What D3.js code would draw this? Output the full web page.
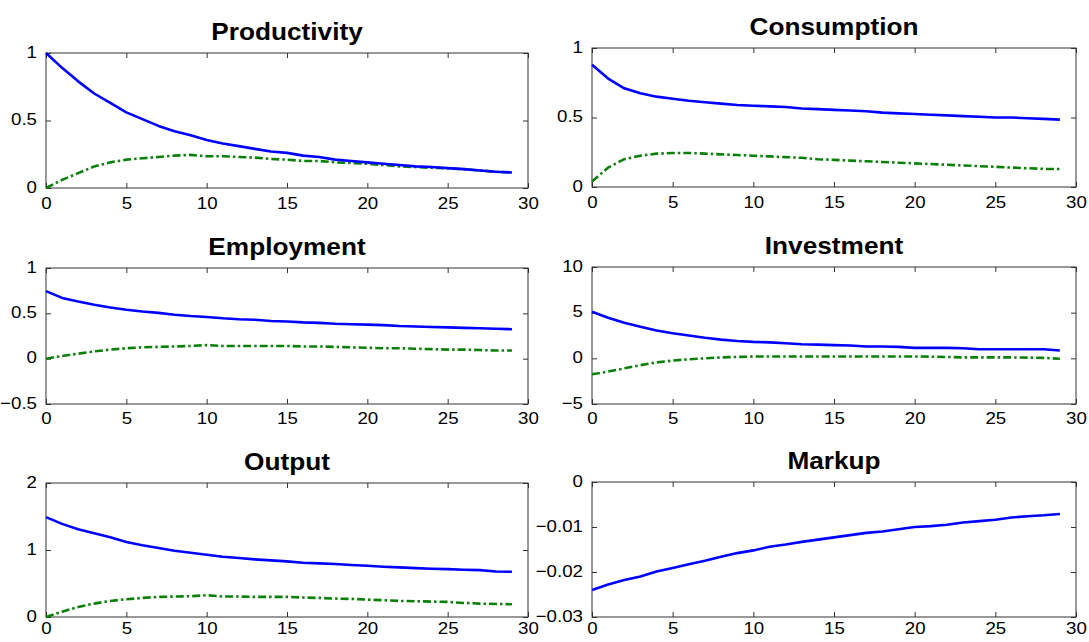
<!DOCTYPE html>
<html>
<head>
<meta charset="utf-8">
<script src="https://cdn.jsdelivr.net/npm/d3@7"></script>
<style>
    body { margin: 0; background: #fff; }
    svg { display: block; }
</style>
</head>
<body>
<svg id="chart"></svg>
<script>
// Impulse responses, periods 0..29
const xTicks = [0, 5, 10, 15, 20, 25, 30];

const productivitySolid = [1.00, 0.89, 0.79, 0.70, 0.63, 0.56, 0.51, 0.46, 0.42, 0.39, 0.355, 0.33, 0.31, 0.29, 0.27, 0.26, 0.24, 0.23, 0.21, 0.20, 0.19, 0.18, 0.17, 0.16, 0.155, 0.147, 0.14, 0.13, 0.12, 0.115];
const productivityDashed = [0.00, 0.06, 0.11, 0.16, 0.19, 0.21, 0.22, 0.23, 0.24, 0.245, 0.235, 0.235, 0.23, 0.225, 0.215, 0.21, 0.20, 0.20, 0.19, 0.185, 0.18, 0.17, 0.16, 0.155, 0.15, 0.145, 0.14, 0.13, 0.12, 0.115];

const consumptionSolid = [0.88, 0.78, 0.71, 0.675, 0.65, 0.635, 0.62, 0.61, 0.60, 0.59, 0.585, 0.58, 0.575, 0.565, 0.56, 0.555, 0.55, 0.545, 0.535, 0.53, 0.525, 0.52, 0.515, 0.51, 0.505, 0.50, 0.50, 0.495, 0.49, 0.485];
const consumptionDashed = [0.04, 0.14, 0.20, 0.225, 0.24, 0.245, 0.245, 0.24, 0.235, 0.23, 0.225, 0.22, 0.215, 0.21, 0.20, 0.195, 0.19, 0.185, 0.18, 0.175, 0.17, 0.165, 0.16, 0.155, 0.15, 0.145, 0.14, 0.135, 0.13, 0.13];

const employmentSolid = [0.745, 0.67, 0.63, 0.595, 0.565, 0.54, 0.52, 0.505, 0.485, 0.47, 0.46, 0.445, 0.435, 0.43, 0.415, 0.41, 0.40, 0.395, 0.385, 0.38, 0.375, 0.37, 0.36, 0.355, 0.35, 0.345, 0.34, 0.335, 0.33, 0.325];
const employmentDashed = [0.00, 0.03, 0.055, 0.08, 0.10, 0.115, 0.125, 0.13, 0.135, 0.14, 0.15, 0.14, 0.14, 0.14, 0.14, 0.14, 0.135, 0.135, 0.13, 0.125, 0.12, 0.115, 0.115, 0.11, 0.105, 0.10, 0.10, 0.095, 0.09, 0.09];

const investmentSolid = [5.1, 4.45, 3.9, 3.45, 3.05, 2.75, 2.5, 2.25, 2.05, 1.9, 1.8, 1.75, 1.65, 1.55, 1.5, 1.45, 1.4, 1.3, 1.3, 1.25, 1.15, 1.15, 1.15, 1.1, 1.0, 1.0, 1.0, 1.0, 1.0, 0.85];
const investmentDashed = [-1.75, -1.45, -1.1, -0.75, -0.45, -0.25, -0.1, 0.0, 0.1, 0.15, 0.2, 0.2, 0.2, 0.2, 0.2, 0.2, 0.2, 0.2, 0.2, 0.2, 0.2, 0.18, 0.15, 0.1, 0.1, 0.1, 0.1, 0.08, 0.05, -0.05];

const outputSolid = [1.49, 1.39, 1.31, 1.25, 1.19, 1.12, 1.07, 1.03, 0.99, 0.96, 0.93, 0.90, 0.88, 0.86, 0.845, 0.83, 0.81, 0.80, 0.79, 0.775, 0.765, 0.75, 0.74, 0.73, 0.72, 0.715, 0.705, 0.70, 0.68, 0.675];
const outputDashed = [0.00, 0.08, 0.15, 0.20, 0.24, 0.265, 0.285, 0.30, 0.305, 0.31, 0.325, 0.305, 0.305, 0.30, 0.30, 0.30, 0.29, 0.285, 0.275, 0.27, 0.26, 0.25, 0.24, 0.235, 0.23, 0.225, 0.21, 0.20, 0.195, 0.19];

const markupSolid = [-0.0240, -0.0228, -0.0218, -0.0210, -0.0199, -0.0191, -0.0183, -0.0175, -0.0166, -0.0158, -0.0152, -0.0144, -0.0139, -0.0133, -0.0128, -0.0123, -0.0118, -0.0113, -0.0110, -0.0105, -0.0100, -0.0098, -0.0095, -0.0090, -0.0087, -0.0084, -0.0079, -0.0076, -0.0074, -0.0071];

const productivityTicks = [0, 0.5, 1];
const consumptionTicks = [0, 0.5, 1];
const employmentTicks = [-0.5, 0, 0.5, 1];
const investmentTicks = [-5, 0, 5, 10];
const outputTicks = [0, 1, 2];
const markupTicks = [-0.03, -0.02, -0.01, 0];

const width = 1089;
const height = 642;

// panel boxes (left, right, top, bottom) in page pixels, plus x-label padding
const panels = [
    { title: 'Productivity', box: [46, 528, 53, 188], pad: 9, ticks: productivityTicks, solid: productivitySolid, dashed: productivityDashed },
    { title: 'Consumption', box: [592, 1076, 48, 187], pad: 9, ticks: consumptionTicks, solid: consumptionSolid, dashed: consumptionDashed },
    { title: 'Employment', box: [46, 528, 268, 404], pad: 8, ticks: employmentTicks, solid: employmentSolid, dashed: employmentDashed },
    { title: 'Investment', box: [592, 1076, 267, 404], pad: 8, ticks: investmentTicks, solid: investmentSolid, dashed: investmentDashed },
    { title: 'Output', box: [46, 528, 483, 617], pad: 5, ticks: outputTicks, solid: outputSolid, dashed: outputDashed },
    { title: 'Markup', box: [592, 1076, 482, 617], pad: 5, ticks: markupTicks, solid: markupSolid, dashed: null }
];

const svg = d3.select('#chart')
    .attr('width', width)
    .attr('height', height)
    .style('font-family', '"Liberation Sans", Arial, Helvetica, sans-serif');

const stretch = 1.1; // glyphs in the figure are a bit wider than tall

panels.forEach(p => {
    const [x0, x1, y0, y1] = p.box;
    const yMin = d3.min(p.ticks), yMax = d3.max(p.ticks);

    const x = d3.scaleLinear().domain([0, 30]).range([x0, x1]);
    const y = d3.scaleLinear().domain([yMin, yMax]).range([y1, y0]);

    const g = svg.append('g');

    // Title
    g.append('text')
        .attr('transform', `translate(${(x0 + x1) / 2},${y0 - 13}) scale(1.14,1)`)
        .attr('text-anchor', 'middle')
        .attr('font-size', '23px')
        .attr('font-weight', 'bold')
        .attr('fill', '#000')
        .text(p.title);

    // Bottom axis with labels, ticks pointing inward
    const bottom = g.append('g')
        .attr('transform', `translate(0,${y1})`)
        .call(d3.axisBottom(x).tickValues(xTicks).tickSizeInner(-5).tickSizeOuter(0).tickPadding(p.pad));

    // Left axis with labels
    const left = g.append('g')
        .attr('transform', `translate(${x0},0)`)
        .call(d3.axisLeft(y).tickValues(p.ticks).tickSizeInner(-5).tickSizeOuter(0).tickPadding(9)
            .tickFormat(d => d3.format('~g')(d)));

    // Top and right: ticks only
    const top = g.append('g')
        .attr('transform', `translate(0,${y0})`)
        .call(d3.axisTop(x).tickValues(xTicks).tickSizeInner(-5).tickSizeOuter(0).tickFormat(''));
    const right = g.append('g')
        .attr('transform', `translate(${x1},0)`)
        .call(d3.axisRight(y).tickValues(p.ticks).tickSizeInner(-5).tickSizeOuter(0).tickFormat(''));

    [bottom, left, top, right].forEach(a => {
        a.select('.domain').remove();
        a.selectAll('line').attr('stroke', '#333').attr('stroke-width', 1);
        a.selectAll('text')
            .attr('font-size', '17px')
            .attr('fill', '#000')
            .style('font-family', '"Liberation Sans", Arial, Helvetica, sans-serif');
    });
    bottom.selectAll('text').attr('transform', `scale(${stretch},1)`);
    left.selectAll('text').each(function () {
        const t = d3.select(this);
        const tx = +t.attr('x');
        t.attr('x', tx / stretch).attr('transform', `scale(${stretch},1)`).attr('dy', '0.25em');
    });

    // Box
    g.append('rect')
        .attr('x', x0)
        .attr('y', y0)
        .attr('width', x1 - x0)
        .attr('height', y1 - y0)
        .attr('fill', 'none')
        .attr('stroke', '#333')
        .attr('stroke-width', 1);

    const line = d3.line()
        .x((d, i) => x(i))
        .y(d => y(d));

    if (p.dashed) {
        g.append('path')
            .datum(p.dashed)
            .attr('d', line)
            .attr('fill', 'none')
            .attr('stroke', '#0a800a')
            .attr('stroke-width', 2.6)
            .attr('stroke-dasharray', '8,3,2.5,3');
    }

    g.append('path')
        .datum(p.solid)
        .attr('d', line)
        .attr('fill', 'none')
        .attr('stroke', '#0000ff')
        .attr('stroke-width', 2.6)
        .attr('stroke-linejoin', 'round');
});
</script>
</body>
</html>
